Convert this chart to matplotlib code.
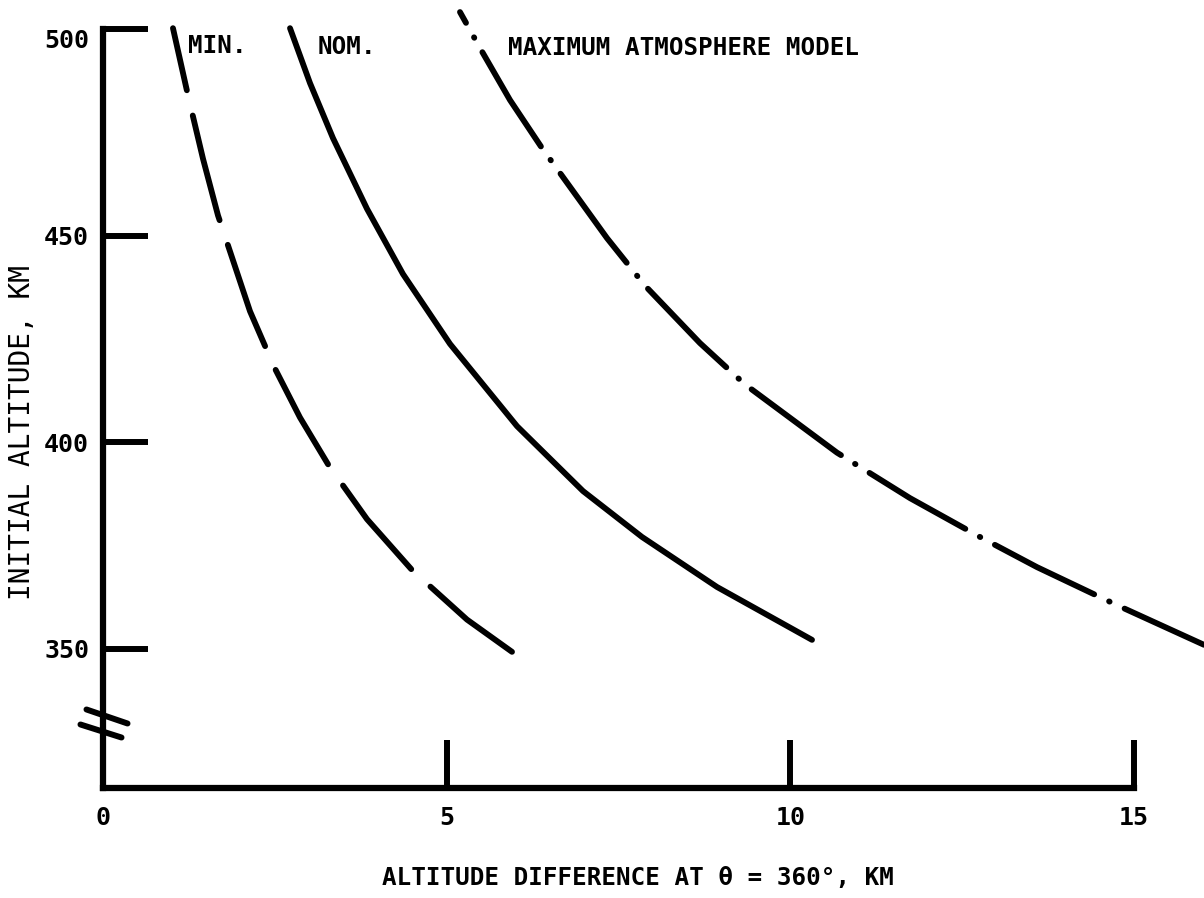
import matplotlib
matplotlib.use('Agg')
import matplotlib.pyplot as plt
from matplotlib.path import Path
from matplotlib.markers import MarkerStyle

# ---------------- data ----------------
min_x = [1.018, 1.237, 1.455, 1.673, 2.139, 2.488, 2.866, 3.288, 3.841, 4.496, 5.296, 5.951]
min_y = [500.2, 483.9, 468.6, 454.9, 431.7, 418.3, 406.0, 394.3, 381.4, 369.1, 357.1, 349.3]

nom_x = [2.721, 3.012, 3.346, 3.841, 4.365, 5.049, 6.024, 6.984, 7.842, 8.933, 10.316]
nom_y = [500.2, 486.9, 473.6, 456.5, 440.7, 423.8, 403.9, 388.2, 377.1, 365.0, 352.2]

max_x = [5.194, 5.485, 5.922, 6.387, 7.333, 7.886, 8.686, 9.341, 10.679, 11.741, 12.760, 13.589, 14.753, 16.019]
max_y = [504.1, 495.4, 482.8, 471.2, 449.4, 437.9, 424.0, 414.0, 397.5, 386.5, 377.1, 369.8, 360.6, 351.0]

x_ticks = [0, 5, 10, 15]
x_tick_labels = ['0', '5', '10', '15']
y_ticks = [350, 400, 450, 500]
y_tick_labels = ['350', '400', '450', '500']
y_break = 332

curve_labels = ['MIN.', 'NOM.', 'MAXIMUM ATMOSPHERE MODEL']
x_label = 'ALTITUDE DIFFERENCE AT \u03b8 = 360\u00b0, KM'
y_label = 'INITIAL ALTITUDE, KM'

# ---------------- style ----------------
plt.rcParams['font.family'] = ['DejaVu Sans Mono', 'DejaVu Sans']
plt.rcParams['lines.scale_dashes'] = False

W, H = 1204, 898
fig = plt.figure(figsize=(W / 100, H / 100), dpi=100)
left_px, bottom_px = 103, 788
ax = fig.add_axes([left_px / W, (H - bottom_px) / H, 1 - left_px / W, bottom_px / H])

px_per_x = 68.73
px_per_y = 4.133
ymin = 500 - (bottom_px - 29) / px_per_y
ymax = 500 + 29 / px_per_y
ax.set_xlim(0, (W - left_px) / px_per_x)
ax.set_ylim(ymin, ymax)

lw = 4.2
ax.plot(min_x, min_y, color='black', lw=lw, ls=(32, (77.8, 18.7)),
        dash_capstyle='round', solid_capstyle='round', dash_joinstyle='round')
ax.plot(nom_x, nom_y, color='black', lw=lw, solid_capstyle='round',
        solid_joinstyle='round')
ax.plot(max_x, max_y, color='black', lw=lw, ls=(71, (79.9, 11.9, 0.4, 11.9)),
        dash_capstyle='round', solid_capstyle='round', dash_joinstyle='round')

# spines
for s in ['top', 'right']:
    ax.spines[s].set_visible(False)
ax.spines['left'].set_bounds(ymin, 500)
ax.spines['bottom'].set_bounds(0, 15)
for s in ['left', 'bottom']:
    ax.spines[s].set_linewidth(4.5)
    ax.spines[s].set_capstyle('projecting')

ax.set_xticks(x_ticks, x_tick_labels)
ax.set_yticks(y_ticks, y_tick_labels)
ax.tick_params(axis='x', direction='in', length=34.5, width=4.3, pad=13,
               labelsize=18)
ax.tick_params(axis='y', direction='in', length=32.5, width=4.3, pad=10,
               labelsize=18)
for t in ax.get_xticklabels() + ax.get_yticklabels():
    t.set_fontweight('bold')
ax.get_yticklabels()[-1].set_va('top')

# axis break mark
brk_path = Path([(-17, 14), (24, 0), (-23, -1), (18, -14)],
                [Path.MOVETO, Path.LINETO, Path.MOVETO, Path.LINETO])
ax.plot([0], [y_break], ls='none', marker=MarkerStyle(brk_path, capstyle='round'),
        markersize=34.6, mew=4.3, mfc='none', mec='black', clip_on=False)

# labels
ax.set_xlabel(x_label, fontsize=17.5, fontweight='bold')
ax.xaxis.label.set_va('center')
ax.xaxis.set_label_coords((638 - left_px) / (W - left_px), (bottom_px - 878) / bottom_px)
ax.set_ylabel(y_label, fontsize=20)
ax.yaxis.label.set_va('center')
ax.yaxis.set_label_coords((22 - left_px) / (W - left_px), (bottom_px - 433) / bottom_px)

ax.text(1.24, 495.9, curve_labels[0], fontsize=17.5, fontweight='bold', va='center', ha='left')
ax.text(3.13, 495.6, curve_labels[1], fontsize=17.5, fontweight='bold', va='center', ha='left')
ax.text(5.89, 495.5, curve_labels[2], fontsize=17.5, fontweight='bold', va='center', ha='left')

fig.savefig('out.png', dpi=100)
